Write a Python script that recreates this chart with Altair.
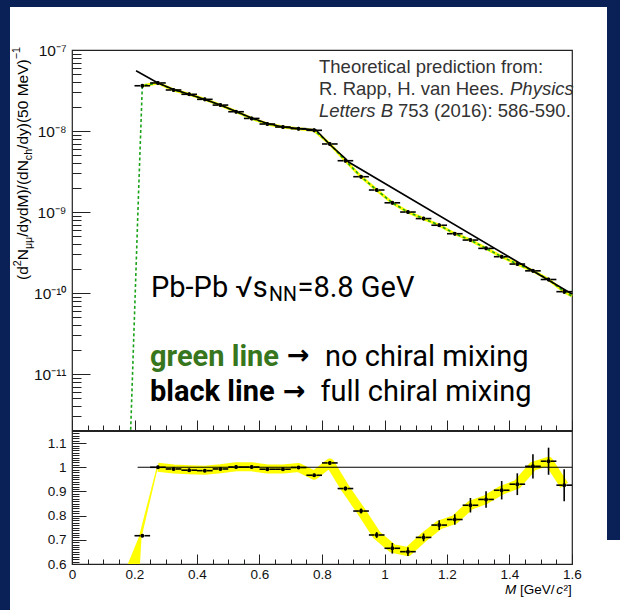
import altair as alt
import pandas as pd

# ---------------- data ----------------
mass_bins = [0.225, 0.275, 0.325, 0.375, 0.425, 0.475, 0.525, 0.575, 0.625, 0.675,
             0.725, 0.775, 0.825, 0.875, 0.925, 0.975, 1.025, 1.075, 1.125, 1.175,
             1.225, 1.275, 1.325, 1.375, 1.425, 1.475, 1.525, 1.575]
yield_data = [3.62e-8, 3.92e-8, 3.21e-8, 2.84e-8, 2.46e-8, 2.09e-8, 1.73e-8, 1.43e-8, 1.22e-8, 1.12e-8,
              1.07e-8, 1.02e-8, 6.92e-9, 4.30e-9, 2.73e-9, 1.87e-9, 1.30e-9, 1.00e-9, 8.3e-10, 6.87e-10,
              5.4e-10, 4.51e-10, 3.56e-10, 2.81e-10, 2.28e-10, 1.88e-10, 1.47e-10, 1.04e-10]
yield_err_rel = [0.05, 0.05, 0.05, 0.05, 0.05, 0.05, 0.05, 0.05, 0.05, 0.05,
                 0.05, 0.05, 0.05, 0.05, 0.05, 0.05, 0.05, 0.05, 0.05, 0.05,
                 0.05, 0.05, 0.05, 0.05, 0.05, 0.05, 0.05, 0.06]
ratio_vals = [0.717, 1.0, 0.993, 0.988, 0.986, 0.993, 1.001, 1.001, 0.992, 0.992,
              0.999, 0.967, 1.018, 0.912, 0.819, 0.72, 0.665, 0.651, 0.71, 0.761,
              0.784, 0.843, 0.867, 0.905, 0.93, 1.004, 1.025, 0.926]
ratio_err = [0.006, 0.006, 0.006, 0.006, 0.006, 0.006, 0.006, 0.006, 0.006, 0.006,
             0.006, 0.006, 0.008, 0.008, 0.010, 0.012, 0.022, 0.018, 0.016, 0.020,
             0.022, 0.030, 0.034, 0.038, 0.045, 0.050, 0.056, 0.066]

# theory: full chiral mixing (black)
black_x = [0.205, 0.275, 0.325, 0.375, 0.425, 0.475, 0.525, 0.575, 0.625, 0.675,
           0.725, 0.78, 0.825, 0.875, 0.885, 1.6]
black_y = [5.55e-8, 3.92e-8, 3.25e-8, 2.84e-8, 2.45e-8, 2.09e-8, 1.74e-8, 1.45e-8, 1.24e-8, 1.12e-8,
           1.07e-8, 1.035e-8, 6.81e-9, 4.57e-9, 4.14e-9, 9.73e-11]
# theory: no chiral mixing (green dashed)
green_x = [0.1878, 0.2122, 0.225, 0.275, 0.325, 0.375, 0.425, 0.475, 0.525, 0.575, 0.625, 0.675,
           0.725, 0.775, 0.825, 0.875, 0.925, 0.975, 1.025, 1.075, 1.125, 1.175,
           1.225, 1.275, 1.325, 1.375, 1.425, 1.475, 1.525, 1.575, 1.6]
green_y = [2.05e-12, 1.41e-9, 3.62e-8, 3.92e-8, 3.21e-8, 2.84e-8, 2.46e-8, 2.09e-8, 1.73e-8, 1.43e-8,
           1.22e-8, 1.12e-8, 1.07e-8, 1.02e-8, 6.92e-9, 4.30e-9, 2.73e-9, 1.87e-9, 1.30e-9, 1.00e-9,
           8.3e-10, 6.87e-10, 5.4e-10, 4.51e-10, 3.56e-10, 2.81e-10, 2.28e-10, 1.88e-10, 1.47e-10,
           1.04e-10, 9.18e-11]
# ratio uncertainty band (yellow)
band_x = [0.275, 0.325, 0.375, 0.425, 0.475, 0.525, 0.575, 0.625, 0.675,
          0.725, 0.775, 0.825, 0.875, 0.925, 0.975, 1.025, 1.075, 1.125, 1.175,
          1.225, 1.275, 1.325, 1.375, 1.425, 1.475, 1.525, 1.575]
band_y = [1.0, 0.993, 0.99, 0.988, 0.994, 1.002, 1.002, 0.993, 0.993,
          0.999, 0.967, 1.018, 0.912, 0.819, 0.72, 0.665, 0.651, 0.71, 0.761,
          0.784, 0.843, 0.867, 0.905, 0.93, 1.004, 1.025, 0.926]
band_start_r = [0.6, 0.71, 1.0]
band_start_lo = [0.1786, 0.2134, 0.2710]
band_start_hi = [0.2176, 0.2224, 0.2750]
unity_start, unity_end, unity_level = 0.21, 1.6, 1.0

HALF_BIN = 0.025
GAP = 0.007

# ---------------- styling ----------------
NAVY = "#0a2157"
YELLOW = "#ffff00"
GREEN = "#1aa31a"
SANS = "Liberation Sans"
ROBOTO = "Roboto"
OX, OY = 72, 50          # page position of the plot origin
W, H = 500, 514          # plot area
H_UP = 380               # height of upper panel

XS = alt.Scale(domain=[0, 1.6], nice=False, zero=False)
YT = alt.Scale(type="log", domain=[2.04e-12, 1e-7], range=[H_UP, 0], nice=False)
YB = alt.Scale(domain=[0.6, 1.15], range=[H, H_UP + 1], nice=False, zero=False)

MINOR_LOG = "abs(log(datum.value)/LN10 - round(log(datum.value)/LN10)) > 0.01"
EXP = "round(log(datum.value)/LN10)"
log_label = (f"({MINOR_LOG}) ? '' : ({EXP} == -7 ? '10⁻⁷' : {EXP} == -8 ? '10⁻⁸' : "
             f"{EXP} == -9 ? '10⁻⁹' : {EXP} == -10 ? '10⁻¹⁰' : '10⁻¹¹')")
MINOR_X = "abs(datum.value*5 - round(datum.value*5)) > 0.01"
MINOR_R = "abs(datum.value*10 - round(datum.value*10)) > 0.001"

up_y_ticks = [m * 10.0 ** e for e in range(-12, -7) for m in range(1, 10)] + [1e-7]
up_y_ticks = [v for v in up_y_ticks if v >= 2.0e-12]
x_ticks = [round(0.05 * i, 2) for i in range(33)]
r_ticks = [round(0.60 + 0.01 * i, 2) for i in range(56)]

common = dict(grid=False, domain=False, tickColor="#222", tickWidth=1,
              labelFont=SANS, labelColor="#111", labelOverlap=False, title=None)

ax_up_y = alt.Axis(orient="left", values=up_y_ticks, offset=-18, tickSize=18,
                   tickDash={"condition": {"test": MINOR_LOG, "value": [0, 9, 9]}, "value": []},
                   labelExpr=log_label, labelPadding=6, labelFontSize=15.5, **common)
ax_up_x = alt.Axis(orient="bottom", values=x_ticks, offset=-(H - H_UP) - 10, tickSize=10,
                   tickDash={"condition": {"test": MINOR_X, "value": [0, 5, 5]}, "value": []},
                   labels=False, **common)
ax_divider = alt.Axis(orient="top", offset=-(H_UP + 0.5), ticks=False, labels=False, grid=False,
                      domain=True, domainColor="#222", domainWidth=2, title=None)
ax_low_x = alt.Axis(orient="bottom", values=x_ticks, offset=-10, tickSize=10,
                    tickDash={"condition": {"test": MINOR_X, "value": [0, 5, 5]}, "value": []},
                    format=".1~f", labelExpr=f"({MINOR_X}) ? '' : datum.label",
                    labelPadding=3, labelFontSize=13.5, labelFlush=False, **common)
ax_low_y = alt.Axis(orient="left", values=r_ticks, offset=-14, tickSize=14,
                    tickDash={"condition": {"test": MINOR_R, "value": [0, 7, 7]}, "value": []},
                    format=".1~f", labelExpr=f"({MINOR_R}) ? '' : datum.label",
                    labelPadding=6, labelFontSize=13.5, **common)

# ---------------- tables ----------------
up = pd.DataFrame({"m": mass_bins, "v": yield_data, "e": yield_err_rel})
up["lo"] = up.v * (1 - up.e)
up["hi"] = up.v * (1 + up.e)
up["l1"] = up.m - HALF_BIN
up["r1"] = up.m - GAP
up["l2"] = up.m + GAP
up["r2"] = up.m + HALF_BIN

rt = pd.DataFrame({"m": mass_bins, "r": ratio_vals, "e": ratio_err})
rt["lo"] = rt.r - rt.e
rt["hi"] = rt.r + rt.e
rt["l1"] = rt.m - HALF_BIN
rt["r1"] = rt.m - GAP
rt["l2"] = rt.m + GAP
rt["r2"] = rt.m + HALF_BIN

green_df = pd.DataFrame({"x": green_x, "y": green_y})
black_df = pd.DataFrame({"x": black_x, "y": black_y})
band_df = pd.DataFrame({"x": band_x, "r": band_y})
bs_df = pd.DataFrame({"r": band_start_r, "lo": band_start_lo, "hi": band_start_hi})
unity_df = pd.DataFrame({"a": [unity_start], "b": [unity_end], "r": [unity_level]})
ONE = pd.DataFrame({"k": [0]})


def X(field, axis=None):
    return alt.X(field, type="quantitative", scale=XS, axis=axis)


def YU(field, axis=None):
    return alt.Y(field, type="quantitative", scale=YT, axis=axis)


def YL(field, axis=None):
    return alt.Y(field, type="quantitative", scale=YB, axis=axis)


def strip(x1, x2, y1, y2):
    return alt.Chart(ONE).mark_rect(color=NAVY).encode(
        x=alt.value(x1 - OX), x2=alt.value(x2 - OX), y=alt.value(y1 - OY), y2=alt.value(y2 - OY))


def label(s, x, y, size, font=SANS, color="#000", weight="normal", style="normal", angle=0):
    kw = dict(text=s, font=font, fontSize=size, color=color, fontWeight=weight,
              fontStyle=style, align="left", baseline="alphabetic")
    if angle:
        kw["angle"] = angle
    return alt.Chart(ONE).mark_text(**kw).encode(x=alt.value(x - OX), y=alt.value(y - OY))


layers = [
    strip(0, 10, 0, 610), strip(0, 620, 0, 7), strip(607, 620, 0, 540),
    # ratio panel band
    alt.Chart(band_df).mark_line(color=YELLOW, strokeWidth=9, strokeJoin="round", strokeCap="butt").encode(
        x=X("x"), y=YL("r", ax_low_y)),
    alt.Chart(bs_df).mark_area(color=YELLOW, orient="horizontal").encode(
        y=YL("r"), x=X("lo"), x2="hi:Q"),
    # upper panel theory curves
    alt.Chart(green_df[green_df.x >= 0.225]).mark_line(color=YELLOW, strokeWidth=3).encode(
        x=X("x", ax_up_x), y=YU("y", ax_up_y)),
    alt.Chart(green_df).mark_line(color=GREEN, strokeWidth=1.6, strokeDash=[3, 2.5]).encode(
        x=X("x", ax_divider), y=YU("y")),
    alt.Chart(black_df).mark_line(color="black", strokeWidth=1.6).encode(
        x=X("x", ax_low_x), y=YU("y")),
    # ratio = 1 line
    alt.Chart(unity_df).mark_rule(color="black", strokeWidth=1.2).encode(
        x=X("a"), x2="b:Q", y=YL("r")),
    # upper data points
    alt.Chart(up).mark_rule(color="black", strokeWidth=1.6).encode(x=X("m"), y=YU("lo"), y2="hi:Q"),
    alt.Chart(up).mark_rule(color="black", strokeWidth=1.6).encode(x=X("l1"), x2="r1:Q", y=YU("v")),
    alt.Chart(up).mark_rule(color="black", strokeWidth=1.6).encode(x=X("l2"), x2="r2:Q", y=YU("v")),
    alt.Chart(up).mark_circle(color="black", size=16, opacity=1).encode(x=X("m"), y=YU("v")),
    # ratio data points
    alt.Chart(rt).mark_rule(color="black", strokeWidth=1.6).encode(x=X("m"), y=YL("lo"), y2="hi:Q"),
    alt.Chart(rt).mark_rule(color="black", strokeWidth=1.6).encode(x=X("l1"), x2="r1:Q", y=YL("r")),
    alt.Chart(rt).mark_rule(color="black", strokeWidth=1.6).encode(x=X("l2"), x2="r2:Q", y=YL("r")),
    alt.Chart(rt).mark_circle(color="black", size=16, opacity=1).encode(x=X("m"), y=YL("r")),
    # reference note
    label("Theoretical prediction from:", 319, 72.5, 18.5, color="#333"),
    label("R. Rapp, H. van Hees.", 319, 94.5, 18.5, color="#333"),
    label("Physics", 510, 94.5, 18.5, color="#333", style="italic"),
    label("Letters B", 319, 116.5, 18.5, color="#333", style="italic"),
    label("753 (2016): 586-590.", 398, 116.5, 18.5, color="#333"),
    # collision system
    label("Pb-Pb √s", 151, 296.5, 29, font=ROBOTO),
    label("NN", 269, 301, 19.5, font=ROBOTO),
    label("=8.8 GeV", 297.5, 296.5, 29, font=ROBOTO),
    label("green line", 150, 365.5, 29, font=ROBOTO, color="#38761d", weight="bold"),
    label("→", 287, 364, 27, font="DejaVu Sans", weight="bold"),
    label("no chiral mixing", 325, 365.5, 29, font=ROBOTO),
    label("black line", 150, 401, 29, font=ROBOTO, weight="bold"),
    label("→", 283, 399.5, 27, font="DejaVu Sans", weight="bold"),
    label("full chiral mixing", 320.5, 401, 29, font=ROBOTO),
    # y axis title (rotated)
    label("(d", 28, 280, 15.5, angle=270),
    label("2", 21, 266.2, 10.7, angle=270),
    label("N", 28, 260.3, 15.5, angle=270),
    label("μμ", 32, 249.1, 10.7, angle=270),
    label("/dydM)/(dN", 28, 236.8, 15.5, angle=270),
    label("ch", 32, 160.2, 10.7, angle=270),
    label("/dy)(50 MeV)", 28, 148.9, 15.5, angle=270),
    label("−1", 20, 59.3, 10.7, angle=270),
    # x axis title
    label("M", 505, 594, 13.5, style="italic"),
    label("[GeV/", 520, 594, 13.5),
    label("c", 556.2, 594, 13.5, style="italic"),
    label("²]", 563.4, 594, 13.5),
]

chart = (
    alt.layer(*layers)
    .resolve_scale(x="independent", y="independent")
    .resolve_axis(x="independent", y="independent")
    .properties(width=W, height=H, padding=0, background="white")
    .configure_view(stroke="#222", strokeWidth=1.2)
)

chart.save("out.html", embed_options={"renderer": "svg", "actions": False})
